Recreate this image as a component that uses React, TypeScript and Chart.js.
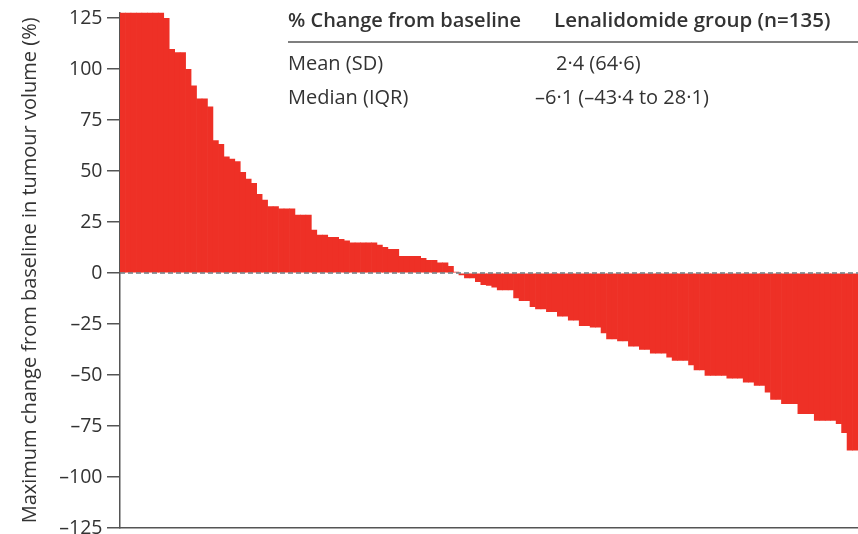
import React, { useEffect, useRef } from "react";
import { Chart, registerables } from "chart.js";

Chart.register(...registerables);

// Waterfall values (% change from baseline), sorted from largest increase to largest decrease
const increaseValues: number[] = [
  130, 130, 130, 130, 130, 130, 130, 130, 124.8, 109.6,
  108.1, 108.1, 99.8, 91.8, 85.4, 85.4, 81.5, 64.9, 63.1, 57.0,
  55.9, 54.6, 49.4, 46.0, 44.0, 38.6, 35.7, 32.6, 32.6, 31.5,
  31.5, 31.5, 28.4, 28.4, 28.4, 21.0, 18.6, 18.6, 17.5, 17.5,
  16.5, 15.8, 14.8, 14.8, 14.8, 14.8, 14.8, 13.7, 12.6, 11.6,
  11.6, 8.2, 8.2, 8.2, 8.2, 7.2, 6.2, 6.2, 5.0, 5.0,
  3.3, 0.4,
];
const decreaseValues: number[] = [
  -1.0, -2.4, -2.4, -4.3, -5.7, -6.1, -7.0, -8.3, -8.3, -8.3,
  -12.2, -13.6, -13.6, -16.5, -17.6, -17.6, -18.9, -18.9, -21.2, -21.2,
  -23.1, -23.1, -25.8, -25.8, -26.6, -26.6, -29.4, -32.3, -32.3, -33.3,
  -33.3, -35.9, -35.9, -37.5, -37.5, -39.3, -39.3, -39.3, -41.2, -42.9,
  -42.9, -42.9, -45.0, -47.5, -47.5, -50.2, -50.2, -50.2, -50.2, -51.5,
  -51.5, -51.5, -53.5, -53.5, -55.1, -55.1, -58.4, -62.0, -62.0, -64.1,
  -64.1, -64.1, -69.0, -69.0, -69.0, -72.3, -72.3, -72.3, -72.3, -73.9,
  -78.3, -86.9, -86.9,
];
const changeValues: number[] = [...increaseValues, ...decreaseValues];
const patientLabels: string[] = changeValues.map((_, i) => `P${i + 1}`);

const yTickValues: number[] = [-125, -100, -75, -50, -25, 0, 25, 50, 75, 100, 125];
const yAxisTitle = "Maximum change from baseline in tumour volume (%)";

const tableHeader: string[] = ["% Change from baseline", "Lenalidomide group (n=135)"];
const tableRowLabels: string[] = ["Mean (SD)", "Median (IQR)"];
const tableRowValues: string[] = ["2·4 (64·6)", "–6·1 (–43·4 to 28·1)"];

const FONT = "'Open Sans', 'Noto Sans', sans-serif";
const TEXT = "#333333";
const AXIS = "#555555";
const BAR = "#EE3026";

const fmtTick = (v: number) => (v < 0 ? "–" + Math.abs(v) : String(v));

const overlayPlugin = {
  id: "overlay",
  afterDatasetsDraw(chart: any) {
    const { ctx, chartArea, scales } = chart;
    const y0 = scales.y.getPixelForValue(0);
    ctx.save();
    ctx.strokeStyle = "#6f7a80";
    ctx.lineWidth = 1.5;
    ctx.setLineDash([5, 3]);
    ctx.beginPath();
    ctx.moveTo(chartArea.left, y0);
    ctx.lineTo(chartArea.right, y0);
    ctx.stroke();
    ctx.restore();
  },
  afterDraw(chart: any) {
    const { ctx } = chart;
    ctx.save();
    ctx.fillStyle = TEXT;
    ctx.textBaseline = "alphabetic";
    ctx.textAlign = "left";
    ctx.font = `600 20px ${FONT}`;
    ctx.fillText(tableHeader[0], 288, 27);
    ctx.font = `600 20.5px ${FONT}`;
    ctx.fillText(tableHeader[1], 554, 27);
    ctx.strokeStyle = AXIS;
    ctx.lineWidth = 1.5;
    ctx.beginPath();
    ctx.moveTo(288, 42);
    ctx.lineTo(858, 42);
    ctx.stroke();
    ctx.font = `400 20px ${FONT}`;
    ctx.fillText(tableRowLabels[0], 288, 70);
    ctx.fillText(tableRowValues[0], 556, 70);
    ctx.fillText(tableRowLabels[1], 288, 104);
    ctx.fillText(tableRowValues[1], 535, 104);
    ctx.restore();
  },
};

export default function App() {
  const canvasRef = useRef<HTMLCanvasElement | null>(null);

  useEffect(() => {
    if (!canvasRef.current) return;
    const chart = new Chart(canvasRef.current, {
      type: "bar",
      data: {
        labels: patientLabels,
        datasets: [
          {
            data: changeValues,
            backgroundColor: BAR,
            borderWidth: 0,
            barPercentage: 1,
            categoryPercentage: 1,
            clip: 0,
          } as any,
        ],
      },
      options: {
        animation: false,
        responsive: false,
        layout: { padding: { top: 12.7, bottom: 6, left: 0, right: 0 } },
        plugins: {
          legend: { display: false },
          tooltip: { enabled: false },
        },
        scales: {
          x: {
            type: "category",
            grid: { display: false, drawTicks: false },
            ticks: { display: false },
            border: { display: true, color: AXIS, width: 1.5 },
            afterFit: (s: any) => {
              s.height = 0;
              s.paddingLeft = 0;
              s.paddingRight = 0;
            },
          },
          y: {
            type: "linear",
            min: -125,
            max: 127.6,
            afterBuildTicks: (s: any) => {
              s.ticks = yTickValues.map((v) => ({ value: v }));
            },
            afterFit: (s: any) => {
              s.width = 120;
              s.paddingTop = 0;
              s.paddingBottom = 0;
            },
            ticks: {
              autoSkip: false,
              padding: 4.5,
              color: TEXT,
              font: { family: FONT, size: 19.5 },
              callback: (v: any) => fmtTick(Number(v)),
            },
            grid: {
              display: true,
              drawOnChartArea: false,
              drawTicks: true,
              tickLength: 13,
              color: AXIS,
              lineWidth: 1.5,
            },
            border: { display: true, color: AXIS, width: 1.5 },
            title: {
              display: true,
              text: yAxisTitle,
              color: TEXT,
              font: { family: FONT, size: 20 },
              padding: { top: 18, bottom: 0 },
            },
          },
        },
      } as any,
      plugins: [overlayPlugin],
    });
    return () => chart.destroy();
  }, []);

  return (
    <div style={{ position: "fixed", left: 0, top: 0, width: 858, height: 534, background: "#fff" }}>
      <canvas ref={canvasRef} width={858} height={534} style={{ display: "block" }} />
    </div>
  );
}
